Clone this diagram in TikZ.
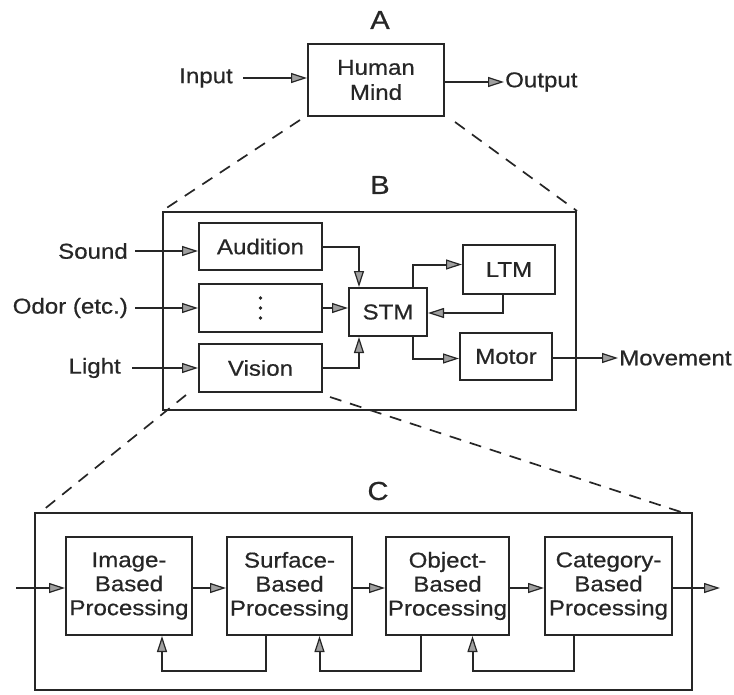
\documentclass[tikz,border=0pt]{standalone}
\usepackage{fontspec}
\setmainfont{Liberation Sans}[FakeStretch=1.12,FakeBold=0.6]
\usetikzlibrary{arrows.meta,calc}
\begin{document}
\begin{tikzpicture}[x=1pt,y=-1pt,
  ink/.style={draw=black!85,line width=2pt},
  blk/.style={ink,rectangle,inner sep=0pt,align=center,font=\fontsize{21.5}{24}\selectfont,text=black!85},
  lbl/.style={inner sep=1pt,font=\fontsize{21.5}{24}\selectfont,text=black!85},
  ttl/.style={inner sep=0pt,font=\fontsize{26}{28}\selectfont,text=black!85},
  arr/.style={ink,-{Triangle[length=16pt,width=10pt,fill=gray!75,line width=1.2pt]}},
  zoomline/.style={draw=black!85,line width=1.7pt,dash pattern=on 12pt off 9pt},
  dot/.style={fill=black!85}]
\useasboundingbox (0,0) rectangle (734,694);

% ---------- level A ----------
\node[ttl] (tA) at (380,20) {A};
\node[blk,minimum width=136pt,minimum height=72pt] (mind) at (376,80) {Human\\[1pt]Mind};
\node[lbl,anchor=east] (in) at (234,78) {Input};
\node[lbl,anchor=west] (out) at (504,82) {Output};
\draw[arr] ([xshift=9pt]in.east) -- (in.east -| mind.west);
\draw[arr] (mind.east |- out.west) -- (out.west);

% ---------- level B ----------
\node[ttl] (tB) at (380,185) {B};
\node[ink,rectangle,minimum width=413pt,minimum height=198pt,inner sep=0pt] (boxB) at (369.5,311) {};
\node[blk,minimum width=123pt,minimum height=47pt] (aud) at (260.5,246.5) {Audition};
\node[blk,minimum width=123pt,minimum height=48pt] (dots) at (260.5,308) {};
\fill[dot] ($(dots.center)+(0,-10)$) circle (1.8pt)
           (dots.center) circle (1.8pt)
           ($(dots.center)+(0,10)$) circle (1.8pt);
\node[blk,minimum width=123pt,minimum height=48pt] (vis) at (260.5,368) {Vision};
\node[blk,minimum width=78pt,minimum height=48pt] (stm) at (388,312) {STM};
\node[blk,minimum width=92pt,minimum height=49pt] (ltm) at (509,269.5) {LTM};
\node[blk,minimum width=92pt,minimum height=47pt] (mot) at (506,356.5) {Motor};
\node[lbl,anchor=east] (snd) at (129,251) {Sound};
\node[lbl,anchor=east] (odr) at (129,308) {Odor (etc.)};
\node[lbl,anchor=east] (lgt) at (122,368) {Light};
\node[lbl,anchor=west] (move) at (618,358) {Movement};

\draw[arr] ([xshift=6pt]snd.east) -- (snd.east -| aud.west);
\draw[arr] ([xshift=6pt]odr.east) -- (odr.east -| dots.west);
\draw[arr] ([xshift=10pt]lgt.east) -- (lgt.east -| vis.west);
\draw[arr] (aud.east) -| ([xshift=-29pt]stm.north);
\draw[arr] (dots.east) -- (dots.east -| stm.west);
\draw[arr] (vis.east) -| ([xshift=-29pt]stm.south);
\draw[arr] ([xshift=25pt]stm.north) |- ([yshift=5pt]ltm.west);
\draw[arr] ([xshift=-6pt]ltm.south) |- ([yshift=-1pt]stm.east);
\draw[arr] ([xshift=25pt]stm.south) |- ([yshift=-2pt]mot.west);
\draw[arr] (mot.east |- move.west) -- (move.west);

% zoom lines from A to B
\coordinate (a1) at (300,120);
\coordinate (a2) at (455,122);
\draw[zoomline] (a1) -- (boxB.north west);
\draw[zoomline] (a2) -- (boxB.north east);

% ---------- level C ----------
\node[ttl] (tC) at (378,491) {C};
\node[ink,rectangle,minimum width=657pt,minimum height=177pt,inner sep=0pt] (boxC) at (363.5,601.5) {};
\node[blk,minimum width=126pt,minimum height=98pt] (img) at (129,586) {Image-\\Based\\Processing};
\node[blk,minimum width=125pt,minimum height=98pt] (surf) at (289.5,586) {Surface-\\Based\\Processing};
\node[blk,minimum width=123pt,minimum height=98pt] (obj) at (447.5,586) {Object-\\Based\\Processing};
\node[blk,minimum width=127pt,minimum height=98pt] (cat) at (608.5,586) {Category-\\Based\\Processing};
\coordinate (cin) at (16,588);
\coordinate (cout) at (720,588);

\draw[arr] (cin) -- (cin -| img.west);
\draw[arr] (img.east |- cin) -- (surf.west |- cin);
\draw[arr] (surf.east |- cin) -- (obj.west |- cin);
\draw[arr] (obj.east |- cin) -- (cat.west |- cin);
\draw[arr] (cat.east |- cout) -- (cout);
\draw[arr] ([xshift=-24pt]surf.south) -- ++(0,35) -| ([xshift=33pt]img.south);
\draw[arr] ([xshift=-27pt]obj.south) -- ++(0,35) -| ([xshift=30pt]surf.south);
\draw[arr] ([xshift=-35pt]cat.south) -- ++(0,35) -| ([xshift=25pt]obj.south);

% zoom lines from Vision to C
\coordinate (v1) at (186,395);
\coordinate (v2) at (330,397);
\draw[zoomline] (v1) -- (42,511);
\draw[zoomline] (v2) -- (684,513);
\end{tikzpicture}
\end{document}
